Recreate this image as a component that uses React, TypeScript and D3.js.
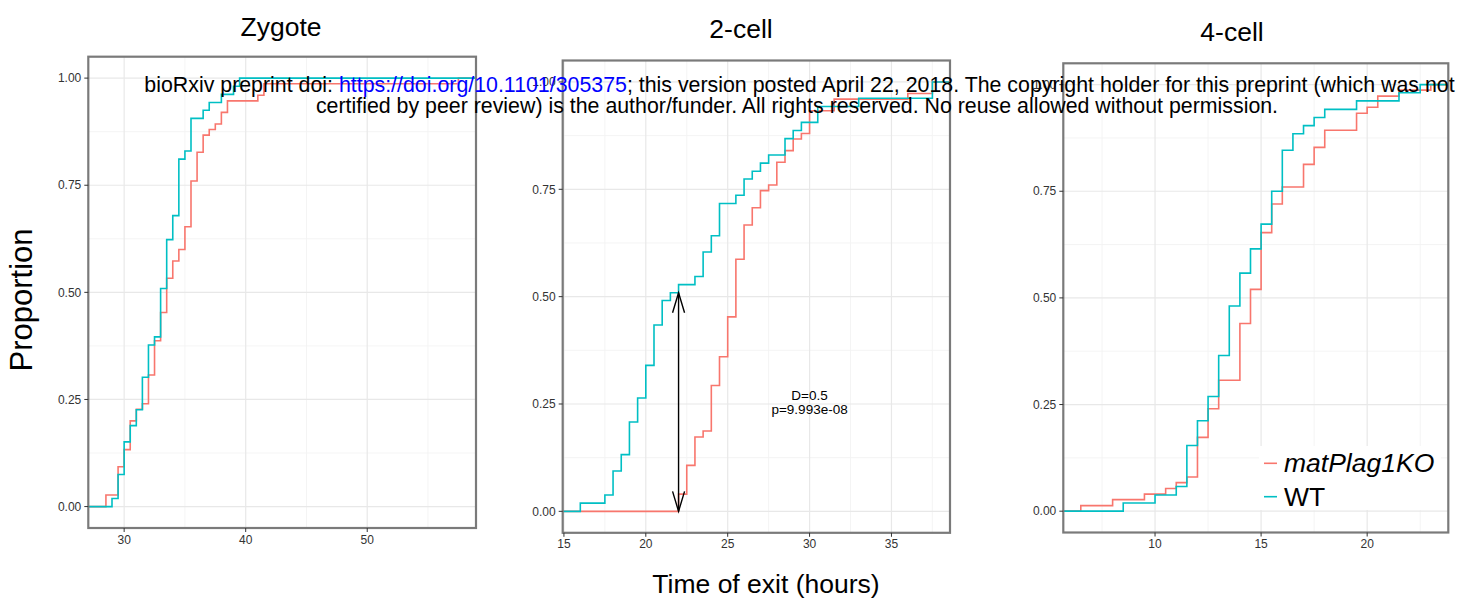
import React from "react";
import * as d3 from "d3";

// ---- data ----
const stages = ["Zygote", "2-cell", "4-cell"];
const genotypes = ["matPlag1KO", "WT"];
const genotypeColors = ["#F8766D", "#00BFC4"];

// Zygote
const zygoteKoTimes = [28.5, 29.5, 30, 30.5, 31, 31.5, 32, 32.5, 33, 33.5, 34, 34.5, 35, 35.5, 36, 36.5, 37, 37.5, 38, 38.5, 41, 41.5, 57.5];
const zygoteKoProp = [0.027, 0.093, 0.133, 0.2, 0.227, 0.24, 0.307, 0.387, 0.453, 0.533, 0.573, 0.6, 0.653, 0.76, 0.827, 0.867, 0.88, 0.893, 0.92, 0.947, 0.96, 0.987, 1];
const zygoteWtTimes = [29, 29.5, 30, 30.5, 31, 31.5, 32, 32.5, 33, 33.5, 34, 34.5, 35, 35.5, 36.5, 37, 38, 39, 39.5];
const zygoteWtProp = [0.019, 0.075, 0.151, 0.189, 0.226, 0.302, 0.377, 0.396, 0.509, 0.623, 0.679, 0.811, 0.83, 0.906, 0.925, 0.943, 0.962, 0.981, 1];
const zygoteTicks = [30, 40, 50];

// 2-cell
const twoCellKoTimes = [22, 22.5, 23, 23.5, 24, 24.5, 25, 25.5, 26, 26.5, 27, 27.5, 28, 28.5, 29, 29.5, 30, 31.5, 36, 37.5];
const twoCellKoProp = [0.04, 0.107, 0.173, 0.187, 0.293, 0.36, 0.453, 0.587, 0.667, 0.707, 0.747, 0.76, 0.813, 0.84, 0.867, 0.88, 0.933, 0.96, 0.973, 1];
const twoCellWtTimes = [16, 17.5, 18, 18.5, 19, 19.5, 20, 20.5, 21, 21.5, 22, 23, 23.5, 24, 24.5, 25.5, 26, 26.5, 27, 27.5, 28.5, 29, 29.5, 30.5, 33, 37.5];
const twoCellWtProp = [0.019, 0.038, 0.094, 0.132, 0.208, 0.264, 0.34, 0.434, 0.491, 0.509, 0.528, 0.547, 0.604, 0.642, 0.717, 0.736, 0.774, 0.792, 0.811, 0.83, 0.868, 0.887, 0.906, 0.943, 0.962, 1];
const twoCellTicks = [15, 20, 25, 30, 35];
const ksX = 22;
const ksLabel = ["D=0.5", "p=9.993e-08"];
const ksLabelPos = [30, 0.25];

// 4-cell
const fourCellKoTimes = [6.5, 8, 9.5, 10.5, 11, 11.5, 12, 12.5, 13, 14, 14.5, 15, 15.5, 16, 17, 17.5, 18, 19.5, 20, 20.5, 21.5, 23];
const fourCellKoProp = [0.013, 0.027, 0.04, 0.053, 0.067, 0.08, 0.173, 0.24, 0.307, 0.44, 0.52, 0.653, 0.72, 0.76, 0.813, 0.853, 0.893, 0.933, 0.947, 0.973, 0.987, 1];
const fourCellWtTimes = [8.5, 10, 11, 11.5, 12, 12.5, 13, 13.5, 14, 14.5, 15, 15.5, 16, 16.5, 17, 17.5, 18, 19.5, 21.5, 22.5];
const fourCellWtProp = [0.019, 0.038, 0.058, 0.154, 0.212, 0.269, 0.365, 0.481, 0.558, 0.615, 0.673, 0.75, 0.846, 0.885, 0.904, 0.923, 0.942, 0.962, 0.981, 1];
const fourCellTicks = [10, 15, 20];

const yTicks = [0, 0.25, 0.5, 0.75, 1];
const yMinor = [0.125, 0.375, 0.625, 0.875];

const xTitle = "Time of exit (hours)";
const yTitle = "Proportion";
const stampLine1 = ["bioRxiv preprint doi: ", "https://doi.org/10.1101/305375", "; this version posted April 22, 2018. The copyright holder for this preprint (which was not"];
const stampLine2 = "certified by peer review) is the author/funder. All rights reserved. No reuse allowed without permission.";

// ---- layout ----
const W = 1463;
const H = 603;
const FONT = "'Liberation Sans', Arial, Helvetica, sans-serif";
const boxes = [
  { left: 88.3, top: 56.7, right: 476, bottom: 528, titleX: 281, titleY: 36 },
  { left: 562.7, top: 60.5, right: 950, bottom: 532.8, titleX: 741, titleY: 37.5 },
  { left: 1063.3, top: 63.3, right: 1448.3, bottom: 532.5, titleX: 1232, titleY: 40.5 },
];

const panels = [
  { ko: [zygoteKoTimes, zygoteKoProp], wt: [zygoteWtTimes, zygoteWtProp], ticks: zygoteTicks },
  { ko: [twoCellKoTimes, twoCellKoProp], wt: [twoCellWtTimes, twoCellWtProp], ticks: twoCellTicks },
  { ko: [fourCellKoTimes, fourCellKoProp], wt: [fourCellWtTimes, fourCellWtProp], ticks: fourCellTicks },
];

function ecdfBefore(times: number[], props: number[], x: number) {
  let v = 0;
  times.forEach((t, i) => {
    if (t < x) v = props[i];
  });
  return v;
}

const Panel = ({ idx }: { idx: number }) => {
  const p = panels[idx];
  const b = boxes[idx];
  const allT = [...p.ko[0], ...p.wt[0]];
  const [lo, hi] = d3.extent(allT) as [number, number];
  const pad = (hi - lo) * 0.05;
  const x = d3.scaleLinear().domain([lo - pad, hi + pad]).range([b.left, b.right]);
  const y = d3.scaleLinear().domain([-0.05, 1.05]).range([b.bottom, b.top]);
  const [d0, d1] = x.domain();

  const step = p.ticks[1] - p.ticks[0];
  const xMinor = d3.range(p.ticks[0] - step / 2, d1, step).filter((v) => v >= d0 && v <= d1);

  const line = d3
    .line<[number, number]>()
    .x((d) => x(d[0]))
    .y((d) => y(d[1]))
    .curve(d3.curveStepAfter);

  const series = [p.ko, p.wt].map(([ts, ps]) => {
    const pts: [number, number][] = [[d0, 0]];
    ts.forEach((t, i) => pts.push([t, ps[i]]));
    pts.push([d1, ps[ps.length - 1]]);
    return pts;
  });

  let ks = null;
  if (idx === 1) {
    const yA = ecdfBefore(p.ko[0], p.ko[1], ksX);
    const yB = ecdfBefore(p.wt[0], p.wt[1], ksX);
    const ax = x(ksX);
    const y0 = y(Math.min(yA, yB));
    const y1 = y(Math.max(yA, yB));
    const hl = 20;
    const hw = 6;
    ks = (
      <g stroke="#000" strokeWidth={1.4} fill="none">
        <line x1={ax} x2={ax} y1={y0} y2={y1} />
        <polyline points={`${ax - hw},${y1 + hl} ${ax},${y1} ${ax + hw},${y1 + hl}`} />
        <polyline points={`${ax - hw},${y0 - hl} ${ax},${y0} ${ax + hw},${y0 - hl}`} />
        <text
          x={x(ksLabelPos[0])}
          y={y(ksLabelPos[1])}
          stroke="none"
          fill="#000"
          fontSize={13.5}
          textAnchor="middle"
        >
          <tspan x={x(ksLabelPos[0])} dy={-3.5}>{ksLabel[0]}</tspan>
          <tspan x={x(ksLabelPos[0])} dy={13.5}>{ksLabel[1]}</tspan>
        </text>
      </g>
    );
  }

  return (
    <g>
      <rect x={b.left} y={b.top} width={b.right - b.left} height={b.bottom - b.top} fill="#fff" />
      {/* grid */}
      {yMinor.map((v) => (
        <line key={"ym" + v} x1={b.left} x2={b.right} y1={y(v)} y2={y(v)} stroke="#f3f3f3" strokeWidth={0.9} />
      ))}
      {xMinor.map((v) => (
        <line key={"xm" + v} y1={b.top} y2={b.bottom} x1={x(v)} x2={x(v)} stroke="#f3f3f3" strokeWidth={0.9} />
      ))}
      {yTicks.map((v) => (
        <line key={"yg" + v} x1={b.left} x2={b.right} y1={y(v)} y2={y(v)} stroke="#e8e8e8" strokeWidth={1.2} />
      ))}
      {p.ticks.map((v) => (
        <line key={"xg" + v} y1={b.top} y2={b.bottom} x1={x(v)} x2={x(v)} stroke="#e8e8e8" strokeWidth={1.2} />
      ))}
      {/* ecdf curves */}
      {series.map((pts, i) => (
        <path key={genotypes[i]} d={line(pts) || ""} fill="none" stroke={genotypeColors[i]} strokeWidth={1.6} />
      ))}
      {ks}
      {/* legend inside the last panel */}
      {idx === 2 && (
        <g>
          <rect x={1259} y={446} width={182} height={64} fill="#fff" />
          {genotypes.map((g, i) => {
            const cy = 463.3 + i * 33.4;
            return (
              <g key={g}>
                <line x1={1264} x2={1277} y1={cy} y2={cy} stroke={genotypeColors[i]} strokeWidth={1.6} />
                <text x={1284} y={cy + 9} fontSize={26.5} fontStyle={i === 0 ? "italic" : "normal"} fill="#000">
                  {g}
                </text>
              </g>
            );
          })}
        </g>
      )}
      {/* border */}
      <rect
        x={b.left}
        y={b.top}
        width={b.right - b.left}
        height={b.bottom - b.top}
        fill="none"
        stroke="#7a7a7a"
        strokeWidth={2.2}
      />
      {/* axes */}
      {yTicks.map((v) => (
        <g key={"yt" + v}>
          <line x1={b.left - 4} x2={b.left} y1={y(v)} y2={y(v)} stroke="#333" strokeWidth={1} />
          <text x={b.left - 7} y={y(v)} dy="0.35em" textAnchor="end" fontSize={12} fill="#333">
            {d3.format(".2f")(v)}
          </text>
        </g>
      ))}
      {p.ticks.map((v) => (
        <g key={"xt" + v}>
          <line x1={x(v)} x2={x(v)} y1={b.bottom} y2={b.bottom + 4} stroke="#333" strokeWidth={1} />
          <text x={x(v)} y={b.bottom + 15.5} textAnchor="middle" fontSize={12} fill="#333">
            {v}
          </text>
        </g>
      ))}
      <text x={b.titleX} y={b.titleY} textAnchor="middle" fontSize={26.5} fill="#000">
        {stages[idx]}
      </text>
    </g>
  );
};

export default function App() {
  return (
    <svg
      width={W}
      height={H}
      style={{ position: "absolute", left: 0, top: 0, background: "#fff" }}
      fontFamily={FONT}
    >
      <rect width={W} height={H} fill="#fff" />
      {panels.map((_, i) => (
        <Panel key={i} idx={i} />
      ))}
      <text transform="translate(32,300) rotate(-90)" textAnchor="middle" fontSize={31} fill="#000">
        {yTitle}
      </text>
      <text x={766} y={593} textAnchor="middle" fontSize={26.5} fill="#000">
        {xTitle}
      </text>
      {/* preprint stamp */}
      <text x={799.5} y={91.7} textAnchor="middle" fontSize={21.35} fill="#000">
        <tspan>{stampLine1[0]}</tspan>
        <tspan fill="#0000ff">{stampLine1[1]}</tspan>
        <tspan>{stampLine1[2]}</tspan>
      </text>
      <text x={797} y={112.7} textAnchor="middle" fontSize={21.35} fill="#000">
        {stampLine2}
      </text>
    </svg>
  );
}
